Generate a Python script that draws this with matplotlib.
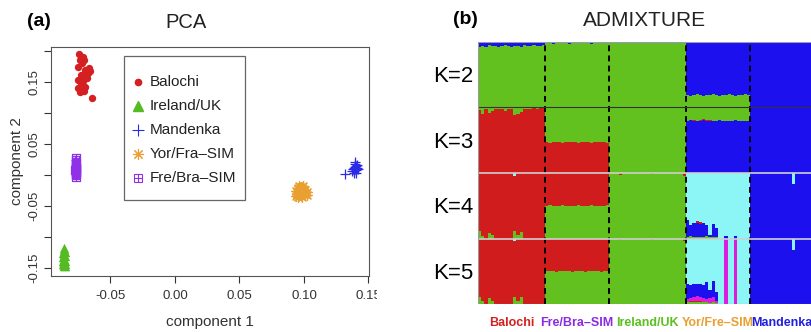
import numpy as np
import matplotlib
matplotlib.use("Agg")
import matplotlib.pyplot as plt
from matplotlib.patches import Rectangle

plt.rcParams['font.family'] = ['Liberation Sans', 'DejaVu Sans']
plt.rcParams['axes.unicode_minus'] = False

# ---------------- PCA data (component 1, component 2) ----------------
balochi_x = [-0.0742, -0.0736, -0.0705, -0.0749, -0.0698, -0.0660, -0.0731, -0.0749, -0.0711, -0.0731, -0.0698,
             -0.0646, -0.0749, -0.0685, -0.0720, -0.0690, -0.0725, -0.0675, -0.0740, -0.0705, -0.0670, -0.0715]
balochi_y = [0.195, 0.186, 0.186, 0.175, 0.169, 0.168, 0.162, 0.154, 0.151, 0.143, 0.142,
             0.125, 0.141, 0.156, 0.180, 0.160, 0.148, 0.164, 0.134, 0.135, 0.172, 0.190]
ireland_x = [-0.0858, -0.0862, -0.0855, -0.0865, -0.0860, -0.0852, -0.0868, -0.0858, -0.0863,
             -0.0850, -0.0866, -0.0857, -0.0861, -0.0854, -0.0869, -0.0859, -0.0856, -0.0864]
ireland_y = [-0.117, -0.121, -0.124, -0.126, -0.129, -0.131, -0.133, -0.135, -0.137,
             -0.138, -0.139, -0.141, -0.142, -0.143, -0.144, -0.145, -0.146, -0.147]
mandenka_x = [0.1385, 0.1395, 0.1400, 0.1405, 0.1390, 0.1410, 0.1380, 0.1398,
              0.1402, 0.1393, 0.1408, 0.1388, 0.1375, 0.1320, 0.1415, 0.1397]
mandenka_y = [0.012, 0.010, 0.015, 0.008, 0.006, 0.011, 0.009, 0.018,
              0.004, 0.013, 0.016, 0.003, 0.007, 0.002, 0.010, 0.021]
yorfra_x = [0.0935, 0.0950, 0.0965, 0.0980, 0.0995, 0.1010, 0.1025, 0.0945, 0.0960, 0.0975,
            0.0990, 0.1005, 0.1020, 0.0955, 0.0970, 0.0985, 0.1000, 0.0940, 0.0965, 0.0995]
yorfra_y = [-0.026, -0.021, -0.018, -0.020, -0.022, -0.024, -0.028, -0.031, -0.027, -0.025,
            -0.029, -0.031, -0.033, -0.035, -0.033, -0.036, -0.030, -0.034, -0.024, -0.017]
frebra_x = [-0.0768, -0.0772, -0.0765, -0.0770, -0.0766, -0.0771, -0.0769, -0.0764,
            -0.0773, -0.0767, -0.0770, -0.0768, -0.0766, -0.0771, -0.0769, -0.0767]
frebra_y = [0.027, 0.024, 0.020, 0.017, 0.015, 0.013, 0.011, 0.010,
            0.008, 0.006, 0.005, 0.003, 0.001, -0.001, -0.003, 0.012]

pca_labels = ["Balochi", "Ireland/UK", "Mandenka", "Yor/Fra\u2013SIM", "Fre/Bra\u2013SIM"]
x_ticks = [-0.05, 0.00, 0.05, 0.10, 0.15]
x_tick_labels = ["-0.05", "0.00", "0.05", "0.10", "0.15"]
y_ticks = [-0.15, -0.10, -0.05, 0.00, 0.05, 0.10, 0.15, 0.20]
y_tick_labels = ["-0.15", "", "-0.05", "", "0.05", "", "0.15", ""]

# ---------------- ADMIXTURE data (ancestry fraction per individual) ----------------
pops = ["Balochi", "Fre/Bra\u2013SIM", "Ireland/UK", "Yor/Fre\u2013SIM", "Mandenka"]
pop_sizes = [21, 20, 24, 20, 20]

# K=2 (bottom -> top: green, blue)
bal_k2_green = [0.93, 0.94, 0.93, 0.95, 0.94, 0.94, 0.93, 0.94, 0.95, 0.94, 0.93,
                0.94, 0.94, 0.93, 0.95, 0.94, 0.94, 0.95, 0.94, 0.94, 0.95]
fb_k2_green = [0.98, 0.98, 0.97, 0.98, 0.99, 0.98, 0.98, 0.97, 0.98, 0.98,
               0.99, 0.98, 0.98, 0.98, 0.97, 0.98, 0.98, 0.99, 0.98, 0.98]
ire_k2_green = [1.0, 1.0, 1.0, 1.0, 1.0, 1.0, 1.0, 1.0, 1.0, 1.0, 1.0, 1.0,
                1.0, 1.0, 1.0, 1.0, 1.0, 1.0, 1.0, 1.0, 1.0, 1.0, 1.0, 1.0]
yf_k2_green = [0.19, 0.18, 0.19, 0.20, 0.19, 0.18, 0.19, 0.19, 0.20, 0.19,
               0.18, 0.19, 0.19, 0.20, 0.19, 0.18, 0.19, 0.19, 0.20, 0.19]

# K=3 (bottom -> top: blue, red, green)
bal_k3_red = [0.96, 0.90, 0.97, 0.92, 0.95, 0.97, 0.97, 0.97, 0.95, 0.97, 0.97,
              0.88, 0.90, 0.93, 0.97, 0.98, 0.98, 0.99, 0.98, 0.99, 0.99]
fb_k3_red = [0.47, 0.46, 0.47, 0.48, 0.47, 0.46, 0.47, 0.47, 0.48, 0.47,
             0.46, 0.47, 0.48, 0.47, 0.46, 0.47, 0.47, 0.48, 0.47, 0.46]
yf_k3_blue = [0.80, 0.81, 0.80, 0.79, 0.80, 0.81, 0.80, 0.80, 0.79, 0.80,
              0.81, 0.80, 0.80, 0.79, 0.80, 0.81, 0.80, 0.80, 0.79, 0.80]
yf_k3_red = [0.0, 0.0, 0.01, 0.01, 0.01, 0.01, 0.01, 0.01, 0.0, 0.0,
             0.0, 0.0, 0.0, 0.0, 0.0, 0.0, 0.0, 0.0, 0.0, 0.0]
man_k3_blue = [1.0, 1.0, 1.0, 1.0, 1.0, 1.0, 1.0, 1.0, 1.0, 1.0,
               1.0, 1.0, 1.0, 1.0, 1.0, 1.0, 1.0, 1.0, 1.0, 1.0]

# K=4 and K=5 share these profiles for the first three groups and Mandenka
bal_k45_green = [0.11, 0.04, 0.0, 0.09, 0.05, 0.0, 0.0, 0.0, 0.0, 0.0, 0.0,
                 0.11, 0.05, 0.10, 0.0, 0.0, 0.0, 0.0, 0.0, 0.0, 0.0]
bal_k45_red = [0.89, 0.96, 1.0, 0.91, 0.95, 1.0, 1.0, 1.0, 1.0, 1.0, 1.0,
               0.85, 0.95, 0.90, 1.0, 1.0, 1.0, 1.0, 1.0, 1.0, 1.0]
fb_k45_green = [0.50, 0.51, 0.50, 0.49, 0.50, 0.51, 0.50, 0.50, 0.49, 0.50,
                0.51, 0.50, 0.49, 0.50, 0.51, 0.50, 0.50, 0.49, 0.50, 0.51]
fb_k45_red = [0.50, 0.49, 0.50, 0.51, 0.50, 0.49, 0.50, 0.50, 0.51, 0.50,
              0.49, 0.50, 0.51, 0.50, 0.49, 0.50, 0.50, 0.51, 0.50, 0.49]
ire_k45_green = [1.0, 1.0, 1.0, 0.97, 1.0, 1.0, 1.0, 1.0, 1.0, 1.0, 1.0, 1.0,
                 1.0, 0.98, 1.0, 1.0, 1.0, 1.0, 1.0, 1.0, 1.0, 1.0, 1.0, 0.96]
ire_k45_red = [0.0, 0.0, 0.0, 0.03, 0.0, 0.0, 0.0, 0.0, 0.0, 0.0, 0.0, 0.0,
               0.0, 0.02, 0.0, 0.0, 0.0, 0.0, 0.0, 0.0, 0.0, 0.0, 0.0, 0.04]
man_k45_blue = [1.0, 1.0, 1.0, 1.0, 1.0, 1.0, 1.0, 1.0, 1.0, 1.0,
                1.0, 1.0, 1.0, 0.83, 1.0, 1.0, 1.0, 1.0, 1.0, 1.0]

# K=4 (bottom -> top: green, blue, red, cyan)
yf_k4_green = [0.03, 0.04, 0.03, 0.03, 0.02, 0.03, 0.04, 0.03, 0.02, 0.03,
               0.0, 0.0, 0.0, 0.0, 0.0, 0.0, 0.0, 0.0, 0.0, 0.0]
yf_k4_blue = [0.25, 0.17, 0.21, 0.20, 0.20, 0.20, 0.16, 0.03, 0.20, 0.13,
              0.0, 0.0, 0.04, 0.0, 0.0, 0.04, 0.0, 0.0, 0.0, 0.0]
yf_k4_red = [0.0, 0.0, 0.0, 0.03, 0.03, 0.0, 0.0, 0.0, 0.0, 0.0,
             0.0, 0.0, 0.0, 0.0, 0.0, 0.0, 0.0, 0.0, 0.0, 0.0]

# K=5 (bottom -> top: green, red, magenta, blue, cyan)
yf_k5_green = [0.03, 0.03, 0.03, 0.03, 0.03, 0.03, 0.03, 0.02, 0.03, 0.02,
               0.0, 0.0, 0.0, 0.0, 0.0, 0.0, 0.0, 0.0, 0.0, 0.0]
yf_k5_red = [0.0, 0.01, 0.02, 0.02, 0.01, 0.0, 0.0, 0.0, 0.0, 0.0,
             0.0, 0.0, 0.0, 0.0, 0.0, 0.0, 0.0, 0.0, 0.0, 0.0]
yf_k5_magenta = [0.04, 0.05, 0.06, 0.07, 0.07, 0.06, 0.04, 0.07, 0.08, 0.03,
                 0.0, 0.0, 1.0, 0.0, 0.0, 1.0, 0.0, 0.0, 0.0, 0.0]
yf_k5_blue = [0.24, 0.20, 0.20, 0.18, 0.20, 0.20, 0.27, 0.12, 0.24, 0.14,
              0.0, 0.0, 0.0, 0.0, 0.0, 0.0, 0.0, 0.0, 0.0, 0.0]

k_list = [2, 3, 4, 5]
k_layers = {
    2: ["green", "blue"],
    3: ["blue", "red", "green"],
    4: ["green", "blue", "red", "cyan"],
    5: ["green", "red", "magenta", "blue", "cyan"],
}
# last layer of each K is whatever is left up to 1
k_values = {
    2: [{"green": bal_k2_green}, {"green": fb_k2_green}, {"green": ire_k2_green},
        {"green": yf_k2_green}, {}],
    3: [{"red": bal_k3_red}, {"red": fb_k3_red}, {},
        {"blue": yf_k3_blue, "red": yf_k3_red}, {"blue": man_k3_blue}],
    4: [{"green": bal_k45_green, "red": bal_k45_red}, {"green": fb_k45_green, "red": fb_k45_red},
        {"green": ire_k45_green, "red": ire_k45_red},
        {"green": yf_k4_green, "blue": yf_k4_blue, "red": yf_k4_red}, {"blue": man_k45_blue}],
    5: [{"green": bal_k45_green, "red": bal_k45_red}, {"green": fb_k45_green, "red": fb_k45_red},
        {"green": ire_k45_green, "red": ire_k45_red},
        {"green": yf_k5_green, "red": yf_k5_red, "magenta": yf_k5_magenta, "blue": yf_k5_blue},
        {"blue": man_k45_blue}],
}

anc_colors = {"red": "#d01c1c", "green": "#62c11e", "blue": "#1c10ee",
              "cyan": "#8cf6f6", "magenta": "#dc1edc"}
pop_text_colors = ["#d42020", "#8a2be2", "#5cc020", "#e8a030", "#2020e0"]

# ---------------- figure ----------------
W, H = 812, 332
fig = plt.figure(figsize=(W / 100, H / 100), dpi=100)


def px_rect(x0, y0, x1, y1):
    """figure-pixel box (top-left origin) -> figure fraction rect"""
    return [x0 / W, 1 - y1 / H, (x1 - x0) / W, (y1 - y0) / H]


# ---- (a) PCA ----
ax = fig.add_axes(px_rect(51, 47, 369, 276))
c_bal, c_ire, c_man, c_yf, c_fb = "#d42020", "#55bb22", "#2b2be6", "#e8a030", "#9030e8"
ax.scatter(balochi_x, balochi_y, s=28, marker='o', color=c_bal, linewidths=0, zorder=3)
ax.scatter(ireland_x, ireland_y, s=46, marker='^', color=c_ire, linewidths=0, zorder=3)
ax.scatter(mandenka_x, mandenka_y, s=60, marker='+', color=c_man, linewidths=0.9, zorder=3)
ax.scatter(yorfra_x, yorfra_y, s=50, marker=(8, 2, 0), color=c_yf, linewidths=0.9, zorder=3)
ax.scatter(frebra_x, frebra_y, s=30, marker='s', facecolors='none', edgecolors=c_fb, linewidths=0.9, zorder=3)
ax.scatter(frebra_x, frebra_y, s=30, marker='+', color=c_fb, linewidths=0.9, zorder=3)

ax.set_xlim(-0.0961, 0.1504)
ax.set_ylim(-0.1629, 0.2065)
ax.set_xticks(x_ticks)
ax.set_xticklabels(x_tick_labels)
ax.set_yticks(y_ticks)
ax.set_yticklabels(y_tick_labels, rotation=90, va='center')
ax.tick_params(axis='x', direction='out', length=5, width=0.8, pad=5, labelsize=9.5, colors='#333333')
ax.tick_params(axis='y', direction='out', length=5, width=0.8, pad=2.5, labelsize=9.5, colors='#333333')
for s in ax.spines.values():
    s.set_color('#555555')
    s.set_linewidth(0.8)
ax.set_xlabel("component 1", fontsize=11, color='#333333', va='center')
ax.xaxis.set_label_coords(0.5, (276 - 322) / 229)
ax.set_ylabel("component 2", fontsize=11, color='#333333', va='center')
ax.yaxis.set_label_coords((17 - 51) / 318, 0.5)

# legend box drawn by hand to match the R layout
lx0, lx1 = (124 - 51) / 318, (245 - 51) / 318
ly1, ly0 = 1 - (56 - 47) / 229, 1 - (200 - 47) / 229
ax.add_patch(Rectangle((lx0, ly0), lx1 - lx0, ly1 - ly0, transform=ax.transAxes,
                       facecolor='white', edgecolor='#666666', linewidth=0.9, zorder=4))
mk_x, tx_x = (137.7 - 51) / 318, (150 - 51) / 318
leg_y = [1 - (yy - 47) / 229 for yy in (82, 106, 130, 154, 178)]
leg_styles = [
    dict(marker='o', color=c_bal, markersize=4.5, ls=''),
    dict(marker='^', color=c_ire, markersize=6.5, ls=''),
    dict(marker='+', color=c_man, markersize=9, mew=0.8, ls=''),
    dict(marker=(8, 2, 0), color=c_yf, markersize=8, mew=0.8, ls=''),
    dict(marker='s', mfc='none', mec=c_fb, markersize=5.5, mew=0.8, ls=''),
]
for yy, st, lab in zip(leg_y, leg_styles, pca_labels):
    ax.plot([mk_x], [yy], transform=ax.transAxes, clip_on=False, zorder=5, **st)
    if lab.startswith("Fre"):
        ax.plot([mk_x], [yy], transform=ax.transAxes, clip_on=False, zorder=5,
                marker='+', color=c_fb, markersize=5.5, mew=0.8, ls='')
    ax.text(tx_x, yy, lab, transform=ax.transAxes, fontsize=11, va='center', ha='left',
            color='#222222', zorder=5)

fig.text(39 / W, 1 - 22 / H, "(a)", fontsize=14, fontweight='bold', ha='center', va='center')
fig.text(186 / W, 1 - 22 / H, "PCA", fontsize=14.5, ha='center', va='center', color='#222222')

# the left image is cut just after the last tick label
fig.add_artist(Rectangle((377 / W, 1 - 312 / H), 23 / W, 28 / H, transform=fig.transFigure,
                         facecolor='white', edgecolor='none', zorder=10))

# ---- (b) ADMIXTURE ----
n_ind = sum(pop_sizes)
starts = np.concatenate([[0], np.cumsum(pop_sizes)])
edges = np.arange(n_ind + 1)
adm_x0, adm_x1 = 478, 478 + n_ind * 3.2
row_top, row_h = 42, 65.5

for r, K in enumerate(k_list):
    layers = k_layers[K]
    mat = np.zeros((len(layers), n_ind))
    for p, comp in enumerate(k_values[K]):
        for name, vals in comp.items():
            mat[layers.index(name), starts[p]:starts[p + 1]] = vals
    mat[-1] = np.clip(1 - mat[:-1].sum(axis=0), 0, 1)

    y0 = row_top + r * row_h
    axr = fig.add_axes(px_rect(adm_x0, y0, adm_x1, y0 + row_h))
    base = np.zeros(n_ind)
    for li, name in enumerate(layers):
        top = base + mat[li]
        axr.stairs(top, edges, baseline=base, fill=True, color=anc_colors[name], linewidth=0)
        base = top
    axr.set_xlim(0, n_ind)
    axr.set_ylim(0, 1)
    axr.set_axis_off()
    fig.text(453 / W, 1 - (y0 + row_h / 2 + 2) / H, f"K={K}", fontsize=16, ha='center', va='center')

ax_ov = fig.add_axes(px_rect(adm_x0, row_top, adm_x1, row_top + 4 * row_h), facecolor='none')
ax_ov.set_xlim(0, n_ind)
ax_ov.set_ylim(0, 4)
ax_ov.set_axis_off()
for b in starts[1:-1]:
    ax_ov.axvline(b, color='black', linewidth=1.4, linestyle=(0, (3, 2.2)))
ax_ov.axhline(3, color='#333333', linewidth=0.8)
ax_ov.axhline(2, color='#cfcfcf', linewidth=1.2)
ax_ov.axhline(1, color='#cfcfcf', linewidth=1.2)
ax_ov.axhline(0, color='#999999', linewidth=0.8)
ax_ov.axhline(4, color='#9999bb', linewidth=0.8)
ax_ov.axvline(0, color='#999999', linewidth=0.8)

# population labels under the bars (the last one runs off the right edge, as in the source)
for p, name in enumerate(pops):
    cx = (starts[p] + starts[p + 1]) / 2
    ax_ov.text(cx, -19 / row_h, name, color=pop_text_colors[p], fontsize=9, fontweight='bold',
               ha='center', va='center', clip_on=False)

fig.text(465 / W, 1 - 20 / H, "(b)", fontsize=14, fontweight='bold', ha='center', va='center')
fig.text(645 / W, 1 - 21 / H, "ADMIXTURE", fontsize=15, ha='center', va='center', color='#222222')

fig.savefig("out.png", dpi=100)
